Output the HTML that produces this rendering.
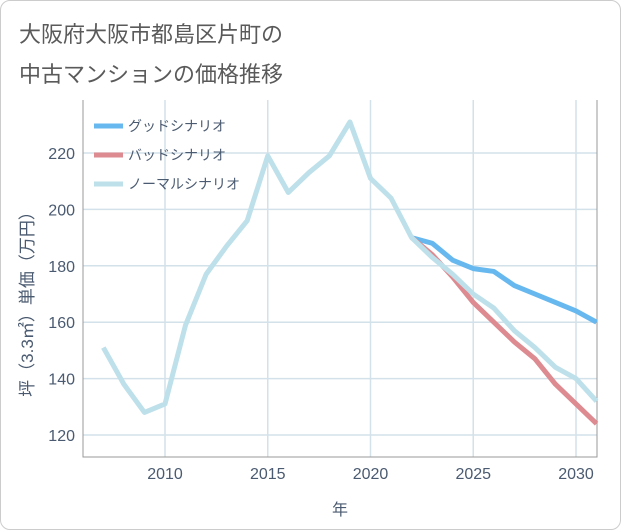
<!DOCTYPE html>
<html><head><meta charset="utf-8"><style>
body{margin:0;background:#fff;font-family:"Liberation Sans","Noto Sans CJK JP",sans-serif;}
#wrap{position:relative;width:619px;height:528px;border:1px solid #ccc;border-radius:10px;overflow:hidden;background:#fff}
.t{position:absolute;left:18px;font-size:22px;color:#5a5a5a;}
</style></head><body>
<div id="wrap">
<div class="t" style="top:16px">大阪府大阪市都島区片町の</div>
<div class="t" style="top:56px">中古マンションの価格推移</div>
<svg id="c" width="621" height="530" style="position:absolute;left:-1px;top:-1px"></svg>
</div>
<script>
const years=[2007,2008,2009,2010,2011,2012,2013,2014,2015,2016,2017,2018,2019,2020,2021,2022,2023,2024,2025,2026,2027,2028,2029,2030,2031];
const normal=[151,138,128,131,159,177,187,196,219,206,213,219,231,211,204,190,183,177,170,165,157,151,144,140,132];
const goodYears=[2022,2023,2024,2025,2026,2027,2028,2029,2030,2031];
const good=[190,188,182,179,178,173,170,167,164,160];
const bad=[190,184,176,167,160,153,147,138,131,124];
const xTicks=[2010,2015,2020,2025,2030];
const yTicks=[120,140,160,180,200,220];
const NS='http://www.w3.org/2000/svg';
const svg=document.getElementById('c');
const L=83,R=597,T=100,B=457;
const x=y=>165+(y-2010)*(576-165)/20;
const yv=v=>435-(v-120)*(435-153)/100;
function mk(tag,a){const e=document.createElementNS(NS,tag);for(const k in a)e.setAttribute(k,a[k]);svg.appendChild(e);return e;}
for(const t of yTicks){const g=mk('line',{x1:L,x2:R,y1:yv(t),y2:yv(t),stroke:'#d3e2ea','stroke-width':1.5});


const tx=mk('text',{x:L-8,y:yv(t)+6,'text-anchor':'end','font-size':16,fill:'#4a5a70'});tx.textContent=t;

}
for(const t of xTicks){const g=mk('line',{x1:x(t),x2:x(t),y1:T,y2:B,stroke:'#d3e2ea','stroke-width':1.5});


const tx=mk('text',{x:x(t),y:B+22,'text-anchor':'middle','font-size':16,fill:'#4a5a70'});tx.textContent=t;

}
const ax=mk('path',{d:`M${L} ${T}V${B}H${R}V${T}`,fill:'none',stroke:'#999','stroke-width':1});


function line(xs,vs,col,name){const p=mk('polyline',{points:xs.map((yy,i)=>x(yy)+','+yv(vs[i])).join(' '),fill:'none',stroke:col,'stroke-width':5,'stroke-linejoin':'round'});

}
line(goodYears,good,'#66b8ef','good-scenario-line');
line(goodYears,bad,'#dd8a90','bad-scenario-line');
line(years,normal,'#bde0ea','normal-scenario-line');
const leg=[['グッドシナリオ','#66b8ef'],['バッドシナリオ','#dd8a90'],['ノーマルシナリオ','#bde0ea']];
leg.forEach((l,i)=>{const yy=126+i*29;
const s=mk('line',{x1:94,x2:123,y1:yy,y2:yy,stroke:l[1],'stroke-width':5});


const tx=mk('text',{x:128,y:yy+5,'font-size':14,fill:'#4a5a70'});tx.textContent=l[0];

});
const xl=mk('text',{x:340,y:515,'text-anchor':'middle','font-size':16,fill:'#4a5a70'});xl.textContent='年';


const yl=mk('text',{x:0,y:0,'text-anchor':'middle','font-size':17,fill:'#4a5a70',transform:'translate(33,300) rotate(-90)'});yl.textContent='坪（3.3㎡）単価（万円）';


</script>
</body></html>
